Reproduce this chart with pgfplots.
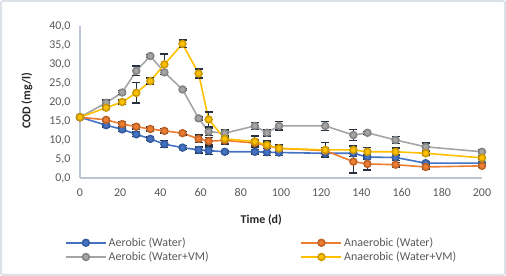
\documentclass[border=0pt]{standalone}
\usepackage{pgfplots}
\pgfplotsset{compat=1.18}
\usepackage{pgfplotstable}
\usepackage{fontspec}
\setmainfont{Carlito}
\definecolor{cblue}{HTML}{4472C4}
\definecolor{corange}{HTML}{ED7D31}
\definecolor{cgray}{HTML}{A5A5A5}
\definecolor{cyellow}{HTML}{FFC000}
\definecolor{cerr}{HTML}{25313F}
\definecolor{caxis}{HTML}{BCC5D3}
\definecolor{cframe}{HTML}{DDE2E8}
\definecolor{ctick}{HTML}{595959}
\definecolor{clabel}{HTML}{262626}

\pgfplotstableread{
t y e
0 16.0 0.3
13 13.9 0.5
21 12.8 0.5
28 11.5 0.6
35 10.3 0.5
42 8.9 0.9
51 8.0 0.5
59 7.4 0.8
64 7.2 1.0
72 6.9 0.4
87 6.9 0.6
93 6.8 0.9
99 6.7 0.8
122 6.5 0.8
136 6.5 0.8
143 5.5 0.6
157 5.4 0.8
172 3.9 0.5
200 3.9 0.4
}\aerW
\pgfplotstableread{
t y e
0 16.0 0.3
13 15.3 0.4
21 14.2 0.6
28 13.5 0.6
35 12.9 0.5
42 12.4 0.6
51 11.8 0.5
59 10.3 1.0
64 9.7 1.0
72 9.9 0.8
87 9.2 0.8
93 8.5 0.8
99 7.8 0.8
122 7.2 0.8
136 4.3 3.0
143 3.7 1.6
157 3.5 0.6
172 2.9 0.5
200 3.2 0.5
}\anaW
\pgfplotstableread{
t y e
0 16.0 0.3
13 19.8 0.7
21 22.5 0.5
28 28.2 1.3
35 32.1 0.4
42 27.8 0.5
51 23.3 0.3
59 15.7 0.4
64 12.2 1.0
72 11.8 0.8
87 13.7 0.9
93 11.9 0.8
99 13.7 1.1
122 13.7 1.2
136 11.3 1.4
143 11.9 0.4
157 10.0 0.9
172 8.2 1.0
200 6.9 0.5
}\aerVM
\pgfplotstableread{
t y e
0 16.0 0.3
13 18.5 0.4
21 20.0 0.5
28 22.4 2.7
35 25.5 0.8
42 29.9 2.7
51 35.3 1.0
59 27.5 1.2
64 15.4 2.0
72 10.3 1.5
87 9.6 1.4
93 8.7 1.0
99 7.8 1.0
122 7.4 1.9
136 7.4 1.0
143 6.9 1.2
157 6.9 1.0
172 6.5 0.5
200 5.3 0.5
}\anaVM

\begin{document}
\begin{tikzpicture}
\useasboundingbox (0,0) rectangle (506bp,276bp);
\draw[cframe, line width=2bp, rounded corners=2bp] (1bp,1bp) rectangle (505bp,275bp);
\begin{axis}[
  at={(80bp,98bp)}, anchor=south west,
  scale only axis, width=402bp, height=152bp,
  xmin=0, xmax=200, ymin=0, ymax=40,
  xtick={0,20,...,200}, ytick={0,5,...,40},
  axis x line=bottom, axis y line=left,
  axis line style={caxis, line width=1.2bp, -},
  major tick length=0pt,
  font=\fontsize{12}{14}\selectfont,
  tick label style={ctick},
  /pgf/number format/assume math mode=true,
  yticklabel style={/pgf/number format/.cd, fixed, fixed zerofill, precision=1, use comma, /tikz/.cd, xshift=-6bp},
  xticklabel style={yshift=-7bp},
  xlabel={\bfseries Time (d)}, ylabel={\bfseries COD (mg/l)},
  label style={clabel, font=\fontsize{12}{14}\selectfont},
  x label style={at={(axis description cs:0.451,-0.275)}, anchor=center},
  y label style={at={(axis description cs:-0.132,0.507)}, anchor=center},
  legend columns=2,
  legend style={at={(axis description cs:-0.045,-0.365)}, anchor=north west, draw=none, fill=none,
    font=\fontsize{12}{14}\selectfont, text=ctick, row sep=0bp,
    /tikz/every even column/.append style={column sep=90bp}},
  legend cell align=left,
  legend image code/.code={\draw[mark repeat=2, mark phase=2, #1] plot coordinates {(0bp,0bp) (20bp,0bp) (40bp,0bp)};},
  every axis plot/.append style={line width=1.6bp, mark=*, mark size=3.4bp},
  error bars/y dir=both, error bars/y explicit,
  error bars/error mark options={rotate=90, mark size=4bp, line width=1.4bp, cerr},
  error bars/error bar style={line width=1.1bp, cerr},
]
\addplot[cblue, mark options={fill=cblue, draw=cblue!80!black}] table[x=t, y=y, y error=e] {\aerW};
\addlegendentry{Aerobic (Water)}
\addplot[corange, mark options={fill=corange, draw=corange!80!black}] table[x=t, y=y, y error=e] {\anaW};
\addlegendentry{Anaerobic (Water)}
\addplot[cgray, mark options={fill=cgray, draw=cgray!80!black}] table[x=t, y=y, y error=e] {\aerVM};
\addlegendentry{Aerobic (Water+VM)}
\addplot[cyellow, mark options={fill=cyellow, draw=cyellow!80!black}] table[x=t, y=y, y error=e] {\anaVM};
\addlegendentry{Anaerobic (Water+VM)}
\end{axis}
\end{tikzpicture}
\end{document}
